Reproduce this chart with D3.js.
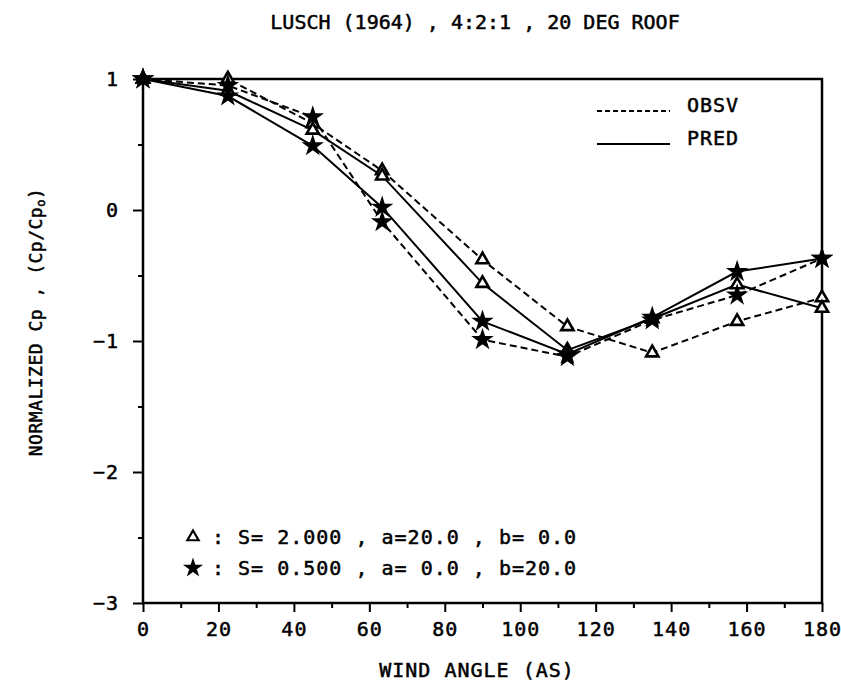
<!DOCTYPE html>
<html>
<head>
<meta charset="utf-8">
<script src="https://cdn.jsdelivr.net/npm/d3@7"></script>
<style>
  html, body { margin: 0; padding: 0; background: #fff; }
  svg { display: block; }
  text { font-family: "DejaVu Sans Mono", "Liberation Mono", monospace; fill: #000; stroke: #000; stroke-width: 0.5px; }
</style>
</head>
<body>
<script>
// ---- data ----
const angles = [0, 22.5, 45, 63.4, 90, 112.5, 135, 157.5, 180];
const obsvTriangle = [1.0, 1.0, 0.66, 0.30, -0.38, -0.89, -1.09, -0.85, -0.67];
const predTriangle = [1.0, 0.91, 0.61, 0.26, -0.56, -1.07, -0.83, -0.57, -0.75];
const obsvStar = [1.0, 0.95, 0.71, -0.09, -0.99, -1.12, -0.84, -0.65, -0.37];
const predStar = [1.0, 0.87, 0.49, 0.02, -0.85, -1.10, -0.82, -0.47, -0.37];
const xTicks = [0, 20, 40, 60, 80, 100, 120, 140, 160, 180];
const xMinorTicks = [10, 30, 50, 70, 90, 110, 130, 150, 170];
const yTicks = [1, 0, -1, -2, -3];
const yMinorTicks = [0.5, -0.5, -1.5, -2.5];
const titleText = "LUSCH (1964) , 4:2:1 , 20 DEG ROOF";
const xLabel = "WIND ANGLE (AS)";
const legendLabels = ["OBSV", "PRED"];
const noteLines = [": S= 2.000 , a=20.0 , b= 0.0", ": S= 0.500 , a= 0.0 , b=20.0"];

const W = 841, H = 687;
const margin = {left: 143, right: 19, top: 79, bottom: 84};
const pw = W - margin.left - margin.right, ph = H - margin.top - margin.bottom;

const svg = d3.select("body").append("svg").attr("width", W).attr("height", H);
svg.append("rect").attr("width", W).attr("height", H).attr("fill", "#fff");

const x = d3.scaleLinear().domain([0, 180]).range([0, pw]);
const y = d3.scaleLinear().domain([-3, 1]).range([ph, 0]);

const g = svg.append("g").attr("transform", `translate(${margin.left},${margin.top})`);

// frame
g.append("rect").attr("width", pw).attr("height", ph)
  .attr("fill", "none").attr("stroke", "#000").attr("stroke-width", 2.5);

// x axis
g.append("g").attr("transform", `translate(0,${ph})`)
  .call(d3.axisBottom(x).tickValues(xTicks).tickSize(9).tickPadding(10).tickFormat(d3.format("d")));
g.append("g").attr("transform", `translate(0,${ph})`)
  .call(d3.axisBottom(x).tickValues(xMinorTicks).tickSize(5).tickFormat(""));
// y axis
g.append("g").call(d3.axisLeft(y).tickValues(yTicks).tickSize(10).tickPadding(14)
  .tickFormat(d => d < 0 ? "\u2212" + Math.abs(d) : d));
g.append("g").call(d3.axisLeft(y).tickValues(yMinorTicks).tickSize(5).tickFormat(""));

g.selectAll(".domain").remove();
g.selectAll(".tick line").attr("stroke", "#000").attr("stroke-width", 2);
g.selectAll(".tick text").attr("font-size", 20).attr("letter-spacing", 1)
  .style("font-family", "'DejaVu Sans Mono','Liberation Mono',monospace");

// lines
const line = d3.line().x((d, i) => x(angles[i])).y(d => y(d));
const series = [
  {vals: obsvTriangle, dash: "7,4", sym: d3.symbolTriangle, fill: "#fff"},
  {vals: predTriangle, dash: null, sym: d3.symbolTriangle, fill: "#fff"},
  {vals: obsvStar, dash: "7,4", sym: d3.symbolStar, fill: "#000"},
  {vals: predStar, dash: null, sym: d3.symbolStar, fill: "#000"}
];
series.forEach(s => {
  g.append("path").datum(s.vals).attr("d", line)
    .attr("fill", "none").attr("stroke", "#000").attr("stroke-width", 2)
    .attr("stroke-dasharray", s.dash);
});
series.forEach(s => {
  g.selectAll(null).data(s.vals).enter().append("path")
    .attr("transform", (d, i) => `translate(${x(angles[i])},${y(d)})`)
    .attr("d", d3.symbol().type(s.sym).size(65))
    .attr("fill", s.fill).attr("stroke", "#000").attr("stroke-width", 2.6);
});

// legend
const lg = svg.append("g");
[0, 1].forEach(i => {
  const yy = 112 + i * 33;
  lg.append("line").attr("x1", 597).attr("x2", 670).attr("y1", yy - 1).attr("y2", yy - 1)
    .attr("stroke", "#000").attr("stroke-width", 2)
    .attr("stroke-dasharray", i === 0 ? "5,3" : null);
  lg.append("text").attr("x", 687).attr("y", yy).attr("font-size", 20).attr("letter-spacing", 1)
    .text(legendLabels[i]);
});

// note text
const syms = [d3.symbolTriangle, d3.symbolStar];
noteLines.forEach((t, i) => {
  const yy = 544 + i * 31;
  svg.append("path").attr("transform", `translate(193,${yy - 7})`)
    .attr("d", d3.symbol().type(syms[i]).size(55))
    .attr("fill", i === 0 ? "#fff" : "#000").attr("stroke", "#000").attr("stroke-width", 2.2);
  svg.append("text").attr("x", 212).attr("y", yy).attr("font-size", 20).attr("letter-spacing", 1)
    .style("white-space", "pre").text(t);
});

// title
svg.append("text").attr("x", 475).attr("y", 29).attr("text-anchor", "middle")
  .attr("font-size", 20).style("white-space", "pre").text(titleText);
// x label
svg.append("text").attr("x", 477).attr("y", 677).attr("text-anchor", "middle")
  .attr("font-size", 20).attr("letter-spacing", 1).text(xLabel);
// y label
const yl = svg.append("text").attr("transform", `translate(42,322) rotate(-90)`)
  .attr("text-anchor", "middle").attr("font-size", 18).attr("letter-spacing", 0.5).style("white-space", "pre");
yl.append("tspan").text("NORMALIZED Cp , (Cp/Cp");
yl.append("tspan").attr("font-size", 12).attr("dy", 3).text("o");
yl.append("tspan").attr("dy", -3).text(")");
</script>
</body>
</html>
